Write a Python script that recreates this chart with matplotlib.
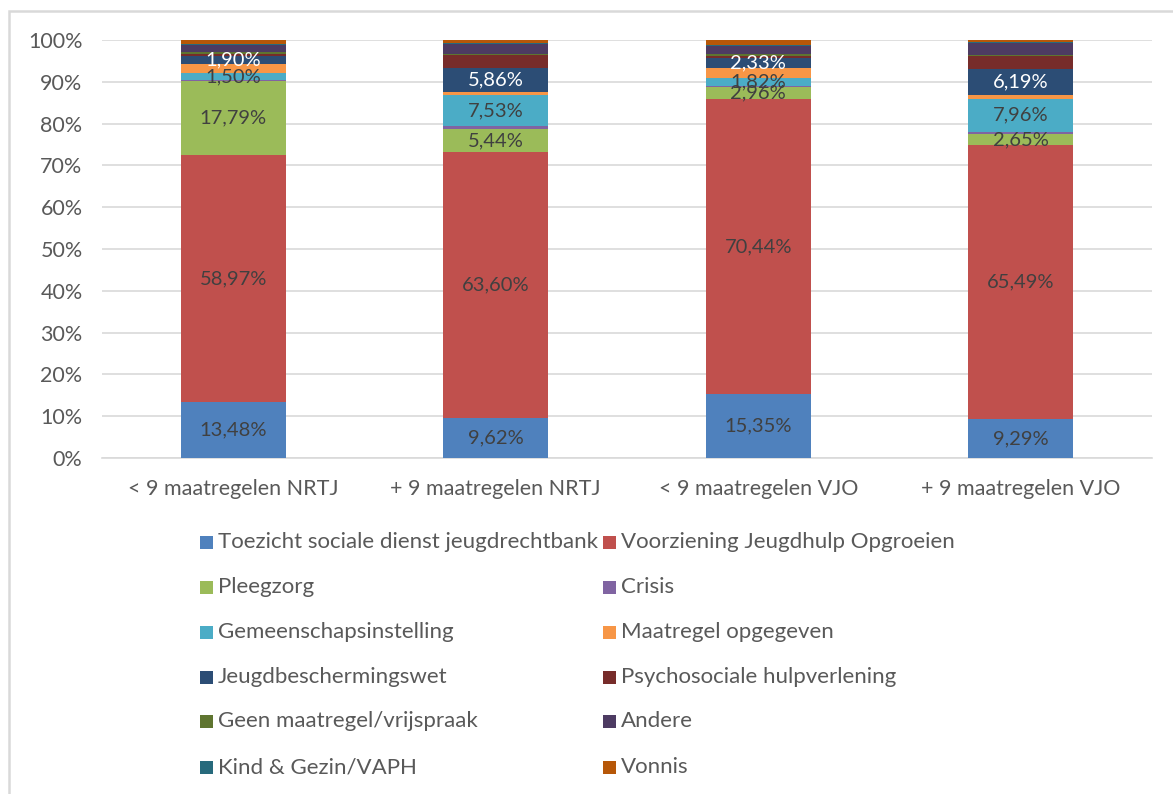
import matplotlib
matplotlib.use("Agg")
import matplotlib.pyplot as plt
from matplotlib.patches import Rectangle
import numpy as np

plt.rcParams['font.family'] = ['Lato', 'DejaVu Sans']

categories = ["< 9 maatregelen NRTJ", "+ 9 maatregelen NRTJ",
              "< 9 maatregelen VJO", "+ 9 maatregelen VJO"]

series_names = [
    "Toezicht sociale dienst jeugdrechtbank",
    "Voorziening Jeugdhulp Opgroeien",
    "Pleegzorg",
    "Crisis",
    "Gemeenschapsinstelling",
    "Maatregel opgegeven",
    "Jeugdbeschermingswet",
    "Psychosociale hulpverlening",
    "Geen maatregel/vrijspraak",
    "Andere",
    "Kind & Gezin/VAPH",
    "Vonnis",
]

# percentages per category (in the order of `categories`)
toezicht = [13.48, 9.62, 15.35, 9.29]
voorziening = [58.97, 63.60, 70.44, 65.49]
pleegzorg = [17.79, 5.44, 2.96, 2.65]
crisis = [0.30, 0.70, 0.25, 0.60]
gemeenschap = [1.50, 7.53, 1.82, 7.96]
maatregel = [2.20, 0.60, 2.45, 0.80]
jeugdbescherming = [1.90, 5.86, 2.33, 6.19]
psychosociaal = [0.60, 3.00, 0.55, 3.10]
geen_maatregel = [0.30, 0.40, 0.40, 0.40]
andere = [1.70, 2.40, 1.90, 2.80]
kind_gezin = [0.40, 0.20, 0.40, 0.20]
vonnis = [0.86, 0.65, 1.15, 0.52]

series_values = [toezicht, voorziening, pleegzorg, crisis, gemeenschap,
                 maatregel, jeugdbescherming, psychosociaal, geen_maatregel,
                 andere, kind_gezin, vonnis]

colors = ["#4F81BD", "#C0504D", "#9BBB59", "#8064A2", "#4BACC6", "#F79646",
          "#2C4D75", "#772C2A", "#5F7530", "#4D3B62", "#276A7C", "#B65708"]

# which series carry data labels, and their text colour
labelled = {0: "#404040", 1: "#404040", 2: "#404040", 4: "#404040", 6: "white"}

W, H = 1173, 794
fig = plt.figure(figsize=(W / 100, H / 100), dpi=100)

# chart frame
fig.patches.append(Rectangle((8.5 / W, -0.1), 1.2, (H - 10.5) / H + 0.1,
                             transform=fig.transFigure, fill=False,
                             edgecolor="#D9D9D9", linewidth=1.8, zorder=0))

ax = fig.add_axes([102 / W, (H - 458) / H, (1152 - 102) / W, (458 - 40) / H])

x = np.arange(len(categories))
bottom = np.zeros(len(categories))
for i, (vals, col) in enumerate(zip(series_values, colors)):
    vals = np.array(vals)
    ax.bar(x, vals, 0.4, bottom=bottom, color=col, zorder=3, linewidth=0)
    if i in labelled:
        for xi, b, v in zip(x, bottom, vals):
            ax.text(xi, b + v / 2, f"{v:.2f}".replace(".", ",") + "%",
                    ha="center", va="center", fontsize=14.5,
                    color=labelled[i], zorder=4)
    bottom += vals

ax.set_xlim(-0.5, 3.5)
ax.set_ylim(0, 100)
ax.set_yticks(np.arange(0, 101, 10))
ax.set_yticklabels([f"{v}%" for v in range(0, 101, 10)])
ax.set_xticks(x)
ax.set_xticklabels(categories)
ax.tick_params(axis="both", length=0, labelsize=15.5, labelcolor="#595959")
ax.tick_params(axis="y", pad=14)
ax.tick_params(axis="x", pad=15)
ax.yaxis.grid(True, color="#D9D9D9", linewidth=1.2, zorder=0)
for side in ["top", "right", "left"]:
    ax.spines[side].set_visible(False)
ax.spines["bottom"].set_color("#D9D9D9")
ax.spines["bottom"].set_linewidth(1.2)

# legend laid out in two columns, filled row by row
col_x = [200, 603]
row_y = [542, 587, 632, 677, 721, 767]
for i, (name, col) in enumerate(zip(series_names, colors)):
    cx = col_x[i % 2]
    cy = row_y[i // 2]
    fig.patches.append(Rectangle((cx / W, (H - cy - 6.5) / H), 13 / W, 13 / H,
                                 transform=fig.transFigure, facecolor=col,
                                 edgecolor="none"))
    fig.text((cx + 18) / W, (H - cy) / H, name, fontsize=16, color="#595959",
             ha="left", va="center")

fig.savefig("out.png", dpi=100)
